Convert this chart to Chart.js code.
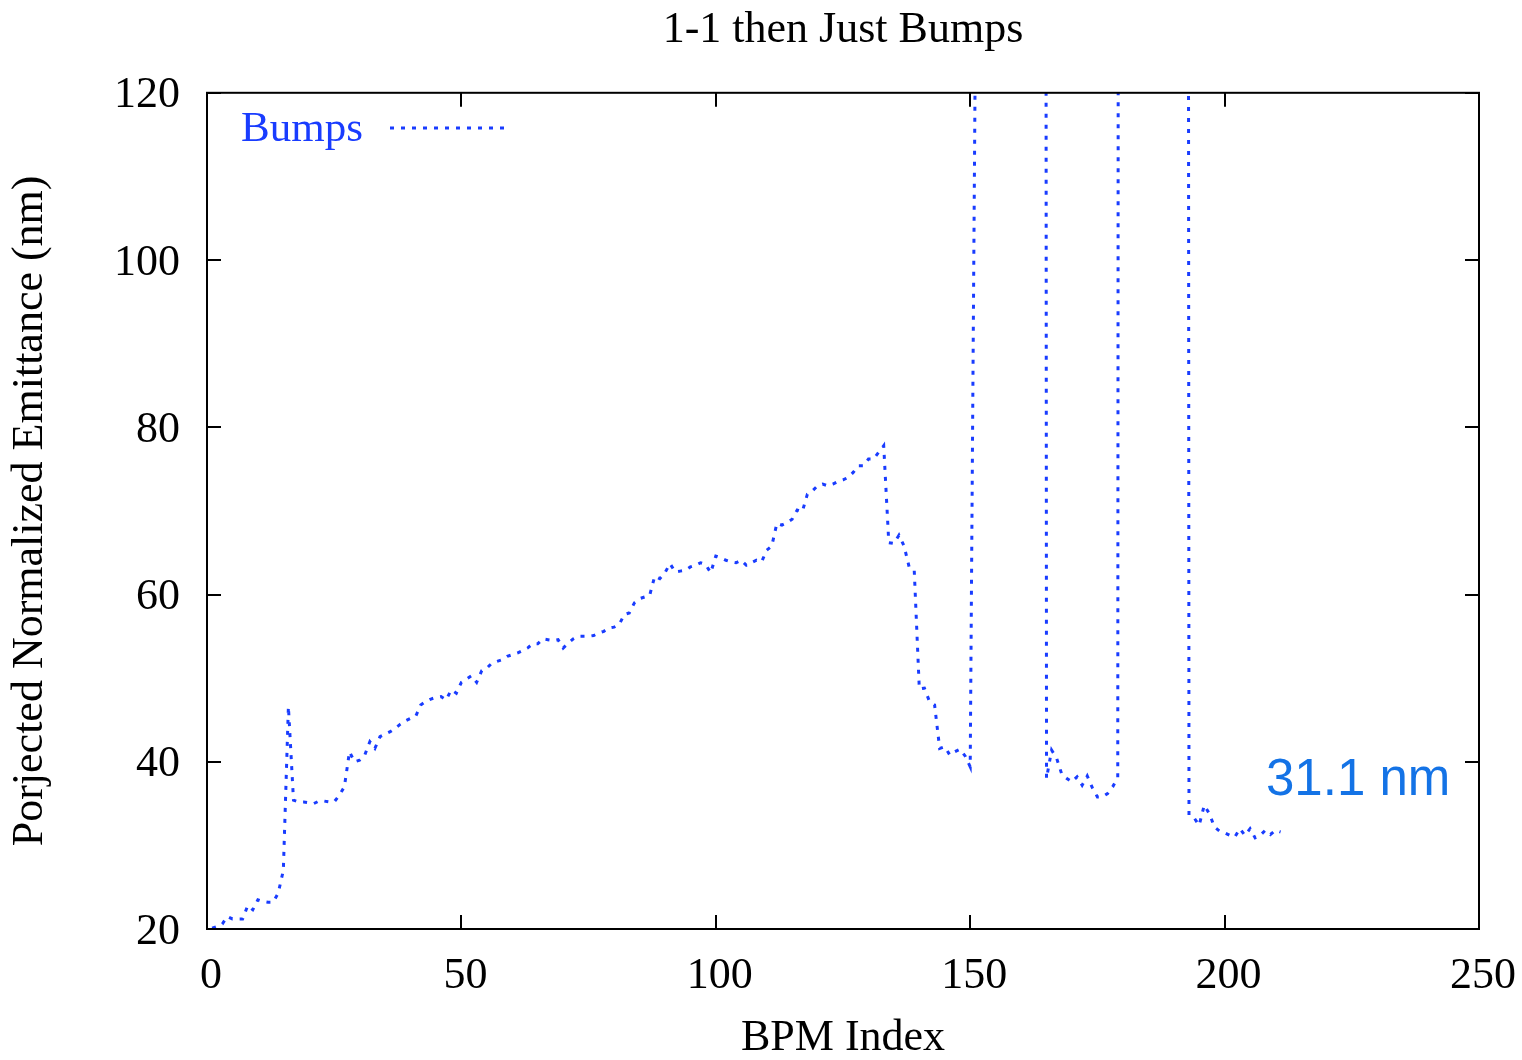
<!DOCTYPE html>
<html>
<head>
<meta charset="utf-8">
<script src="https://cdn.jsdelivr.net/npm/chart.js@4.4.0/dist/chart.umd.min.js"></script>
<style>
  html, body { margin: 0; padding: 0; background: #fff; }
  #wrap { width: 1522px; height: 1060px; }
</style>
</head>
<body>
<div id="wrap"><canvas id="chart" width="1522" height="1060"></canvas></div>
<script>
// ─── Data ────────────────────────────────────────────────────────
const chartTitle = '1-1 then Just Bumps';
const seriesLabel = 'Bumps';
const xTitle = 'BPM Index';
const yTitle = 'Porjected Normalized Emittance (nm)';
const noteText = '31.1 nm';

const xTicks = [0, 50, 100, 150, 200, 250];
const yTicks = [20, 40, 60, 80, 100, 120];

// BPM index runs 1..211, one emittance value per BPM
const bpmStart = 1;
const emittance = [
  20.1, 20.3, 20.6, 21.5, 21.2, 21.2, 21.2, 22.8, 22.3, 23.5,
  23.3, 23.2, 23.2, 24.3, 27.0, 46.6, 35.4, 35.2, 35.2, 35.1,
  35.0, 35.3, 35.3, 35.2, 35.2, 36.0, 37.0, 41.2, 40.0, 40.2,
  40.8, 42.4, 41.6, 43.0, 43.3, 43.6, 44.0, 44.5, 44.9, 45.2,
  45.4, 46.8, 47.2, 47.5, 47.7, 47.8, 47.4, 48.6, 48.2, 49.5,
  49.9, 50.3, 49.5, 50.9, 51.2, 51.8, 52.0, 52.2, 52.6, 52.8,
  53.0, 53.3, 53.6, 54.1, 54.1, 54.7, 54.6, 54.5, 54.6, 53.6,
  54.2, 54.7, 55.0, 55.0, 55.0, 55.1, 55.4, 55.6, 56.0, 56.1,
  56.4, 57.6, 57.8, 59.0, 59.5, 59.7, 59.9, 62.2, 61.9, 62.6,
  63.7, 62.7, 62.8, 62.9, 63.3, 63.5, 63.8, 63.6, 62.6, 64.6,
  64.4, 64.1, 63.9, 63.8, 64.1, 63.5, 63.8, 64.1, 63.9, 65.3,
  65.8, 68.5, 68.3, 68.6, 69.0, 70.1, 69.9, 72.0, 72.4, 73.0,
  73.2, 73.0, 73.2, 73.5, 73.7, 74.0, 74.6, 75.4, 75.4, 76.2,
  76.2, 77.0, 77.8, 66.2, 66.1, 67.1, 65.8, 63.3, 62.9, 48.7,
  48.8, 47.2, 46.8, 41.6, 41.8, 40.8, 41.2, 41.5, 40.7, 39.4,
  125, 1000, 1000, 1000, 1000, 1000, 1000, 1000, 1000, 1000,
  1000, 1000, 1000, 1000, 38.0, 41.4, 40.4, 38.5, 38.0, 37.6,
  38.2, 37.2, 38.3, 36.9, 35.8, 35.8, 36.2, 37.0, 38.1, 1000,
  1000, 1000, 1000, 1000, 1000, 1000, 1000, 1000, 1000, 1000,
  1000, 1000, 33.6, 33.3, 32.4, 34.8, 33.8, 32.2, 31.7, 31.5,
  31.2, 31.0, 32.0, 31.2, 32.0, 30.9, 31.2, 31.8, 31.3, 31.8,
  31.6
];

// ─── Style ───────────────────────────────────────────────────────
const serif = '"Liberation Serif", "Times New Roman", serif';
const fontSize = 44;
const lineBlue = 'rgb(25, 60, 255)';
const noteBlue = '#1473e6';
const dash = [4, 7];

const points = emittance.map((v, i) => ({ x: bpmStart + i, y: v }));

// frame + inward ticks on all four sides, gnuplot style
const framePlugin = {
  id: 'frame',
  afterDraw(chart) {
    const { ctx, chartArea: a, scales } = chart;
    ctx.save();
    ctx.strokeStyle = '#000';
    ctx.lineWidth = 2;
    ctx.strokeRect(a.left, a.top, a.right - a.left, a.bottom - a.top);
    const tl = 14;
    ctx.beginPath();
    scales.x.ticks.forEach(t => {
      const px = Math.round(scales.x.getPixelForValue(t.value));
      ctx.moveTo(px, a.bottom); ctx.lineTo(px, a.bottom - tl);
      ctx.moveTo(px, a.top);    ctx.lineTo(px, a.top + tl);
    });
    scales.y.ticks.forEach(t => {
      const py = Math.round(scales.y.getPixelForValue(t.value));
      ctx.moveTo(a.left, py);  ctx.lineTo(a.left + tl, py);
      ctx.moveTo(a.right, py); ctx.lineTo(a.right - tl, py);
    });
    ctx.stroke();

    // key, top left inside the plot
    ctx.font = '43px ' + serif;
    ctx.fillStyle = lineBlue;
    ctx.textBaseline = 'middle';
    ctx.textAlign = 'left';
    ctx.fillText(seriesLabel, 241, 130);
    ctx.strokeStyle = lineBlue;
    ctx.lineWidth = 3;
    ctx.setLineDash(dash);
    ctx.beginPath();
    ctx.moveTo(390, 128); ctx.lineTo(505, 128);
    ctx.stroke();
    ctx.setLineDash([]);

    // note next to the last segment
    ctx.font = '51px "Liberation Sans", Arial, sans-serif';
    ctx.fillStyle = noteBlue;
    ctx.fillText(noteText, 1266, 781);
    ctx.restore();
  }
};

new Chart(document.getElementById('chart'), {
  type: 'line',
  data: {
    datasets: [{
      label: seriesLabel,
      data: points,
      borderColor: lineBlue,
      borderWidth: 3,
      borderDash: dash,
      pointRadius: 0,
      tension: 0,
      fill: false
    }]
  },
  options: {
    responsive: false,
    animation: false,
    layout: { padding: { left: 0, right: 43, top: 0, bottom: 0 } },
    plugins: {
      legend: { display: false },
      tooltip: { enabled: false },
      title: {
        display: true,
        fullSize: false,
        text: chartTitle,
        color: '#000',
        font: { family: serif, size: fontSize, weight: 'normal', lineHeight: 1.2 },
        padding: { top: 4, bottom: 36 }
      }
    },
    scales: {
      x: {
        type: 'linear',
        min: xTicks[0],
        max: xTicks[xTicks.length - 1],
        grid: { display: false },
        border: { display: false },
        afterBuildTicks: s => { s.ticks = xTicks.map(v => ({ value: v })); },
        afterFit: s => { s.height = 131; s.paddingLeft = 0; s.paddingRight = 0; },
        ticks: {
          color: '#000',
          padding: 13,
          labelOffset: 4,
          maxRotation: 0,
          font: { family: serif, size: fontSize }
        },
        title: {
          display: true,
          text: xTitle,
          color: '#000',
          padding: 0,
          font: { family: serif, size: fontSize, lineHeight: 1 }
        }
      },
      y: {
        min: yTicks[0],
        max: yTicks[yTicks.length - 1],
        grid: { display: false },
        border: { display: false },
        afterBuildTicks: s => { s.ticks = yTicks.map(v => ({ value: v })); },
        afterFit: s => { s.width = 207; s.paddingTop = 0; s.paddingBottom = 0; },
        ticks: {
          color: '#000',
          padding: 19,
          labelOffset: 3,
          font: { family: serif, size: fontSize }
        },
        title: {
          display: true,
          text: yTitle,
          color: '#000',
          padding: { top: 4, bottom: 0 },
          font: { family: serif, size: fontSize, lineHeight: 1.2 }
        }
      }
    }
  },
  plugins: [framePlugin]
});
</script>
</body>
</html>
